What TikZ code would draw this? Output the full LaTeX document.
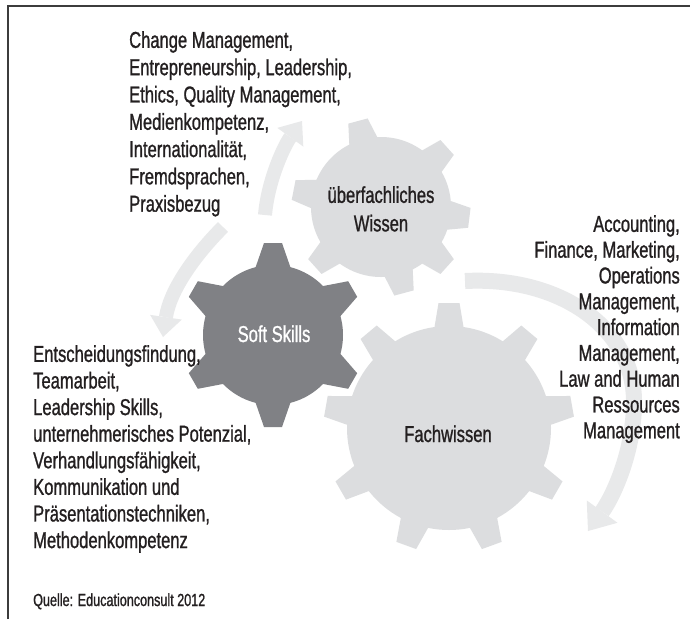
\documentclass[tikz,border=0pt]{standalone}
\usepackage{fontspec}
\setmainfont{Liberation Sans}[FakeStretch=0.72,FakeBold=1]
\usetikzlibrary{arrows.meta}
\definecolor{arrowgray}{RGB}{232,233,234}
\definecolor{lightgear}{RGB}{220,221,223}
\definecolor{darkgear}{RGB}{128,129,133}
\definecolor{textcol}{RGB}{35,31,32}
\definecolor{framecol}{RGB}{60,60,60}
\tikzset{
  flowarrow/.style={draw=arrowgray, line width=14pt,
    -{Triangle[width=32pt,length=20pt,line width=0pt]}},
  bigflowarrow/.style={draw=arrowgray, line width=16pt,
    -{Triangle[width=38pt,length=24pt,line width=0pt]}},
  blocktext/.style={text=textcol, inner sep=0pt},
  gearlabel/.style={inner sep=0pt, align=center, font=\fontsize{23}{28.5}\selectfont},
}
% center x, center y, body radius, tip radius, base half width, tip half width, colour, angles
\newcommand\drawgear[8]{%
  \begin{scope}[shift={(#1,#2)}]
    \fill[#7] (0,0) circle (#3);
    \foreach \ang in {#8} {
      \fill[#7, rotate=\ang] ({#3-4},{-#5}) -- (#4,{-#6}) -- (#4,#6) -- ({#3-4},#5) -- cycle;
    }
  \end{scope}}
\begin{document}
\begin{tikzpicture}[x=1pt,y=1pt]
\useasboundingbox (0,0) rectangle (690,-619);
\fill[white] (0,0) rectangle (690,-619);
% frame (left and top edges)
\draw[framecol, line width=2pt] (8,-619) -- (8,-6) -- (690,-6);

% arrows
\coordinate (a1s) at (265,-215);
\coordinate (a1e) at (302,-121);
\coordinate (a2s) at (223,-227);
\coordinate (a2e) at (163,-337);
\coordinate (a3s) at (465,-281);
\coordinate (a3m) at (634,-405);
\coordinate (a3e) at (588,-531);
\draw[flowarrow] (a1s) .. controls (268,-180) and (284,-146) .. (a1e);
\draw[flowarrow] (a2s) .. controls (195,-255) and (170,-290) .. (a2e);
\draw[bigflowarrow] (a3s) .. controls (562,-276) and (636,-330) .. (a3m)
   .. controls (633,-455) and (612,-498) .. (a3e);

% gears
\drawgear{449}{-428}{102}{125}{15}{10.5}{lightgear}{90,130,170,210,250,290,330,10,50}
\drawgear{381}{-207}{70}{89}{15}{10}{lightgear}{105,42,-7,-42,-75,-138,169}
\drawgear{273}{-335}{70}{92}{18}{9}{darkgear}{90,30,-30,-90,-150,150}

% gear labels
\node[gearlabel, text=white, anchor=base] (soft) at (274,-342) {Soft Skills};
\node[gearlabel, text=textcol, anchor=base] (fach) at (448,-442) {Fachwissen};
\node[gearlabel, text=textcol, anchor=north] (ueber) at (381,-186) {überfachliches\\Wissen};

% text blocks
\node[blocktext, anchor=north west, align=left, font=\fontsize{23}{27.3}\selectfont] (top) at (129,-31)
 {Change Management,\\
  Entrepreneurship, Leadership,\\
  Ethics, Quality Management,\\
  Medienkompetenz,\\
  Internationalität,\\
  Fremdsprachen,\\
  Praxisbezug};
\node[blocktext, anchor=north west, align=left, font=\fontsize{23}{26.6}\selectfont] (left) at (33,-345)
 {Entscheidungsfindung,\\
  Teamarbeit,\\
  Leadership Skills,\\
  unternehmerisches Potenzial,\\
  Verhandlungsfähigkeit,\\
  Kommunikation und\\
  Präsentationstechniken,\\
  Methodenkompetenz};
\node[blocktext, anchor=north east, align=right, font=\fontsize{23}{25.8}\selectfont] (right) at (680,-215)
 {Accounting,\\
  Finance, Marketing,\\
  Operations\\
  Management,\\
  Information\\
  Management,\\
  Law and Human\\
  Ressources\\
  Management};
\node[blocktext, anchor=base west, font=\fontsize{17.5}{20}\selectfont] (source) at (33,-606)
 {Quelle: Educationconsult 2012};
\end{tikzpicture}
\end{document}
